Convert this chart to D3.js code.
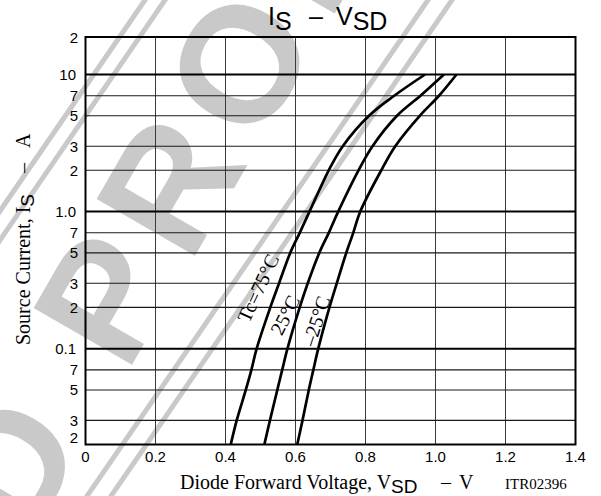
<!DOCTYPE html>
<html><head><meta charset="utf-8">
<script src="https://cdn.jsdelivr.net/npm/d3@7"></script>
<style>body{margin:0;background:#fff}svg{display:block}</style>
</head><body>
<svg id="c" width="601" height="496"></svg>
<script>
// ---- data ----
const xTicks = [0, 0.2, 0.4, 0.6, 0.8, 1.0, 1.2, 1.4];
const xTickLabels = ["0", "0.2", "0.4", "0.6", "0.8", "1.0", "1.2", "1.4"];
const yGrid = [10, 7, 5, 3, 2, 1, 0.7, 0.5, 0.3, 0.2, 0.1, 0.07, 0.05, 0.03];
const yDecades = [10, 1, 0.1];
const yTickValues = [10, 7, 5, 3, 2, 1, 0.7, 0.5, 0.3, 0.2, 0.1, 0.07, 0.05, 0.03, 0.02];
const yTickLabels = ["10", "7", "5", "3", "2", "1.0", "7", "5", "3", "2", "0.1", "7", "5", "3", "2"];
const yTopLabel = "2";
const currentA = [0.02, 0.03, 0.05, 0.07, 0.1, 0.2, 0.3, 0.5, 0.7, 1, 2, 3, 5, 7, 10];
const vf75  = [0.415, 0.432, 0.458, 0.474, 0.489, 0.528, 0.553, 0.585, 0.612, 0.640, 0.695, 0.735, 0.810, 0.882, 0.970];
const vf25  = [0.511, 0.527, 0.548, 0.562, 0.577, 0.612, 0.635, 0.668, 0.695, 0.722, 0.780, 0.820, 0.890, 0.957, 1.024];
const vfm25 = [0.605, 0.620, 0.638, 0.651, 0.665, 0.697, 0.718, 0.745, 0.765, 0.785, 0.845, 0.885, 0.955, 1.010, 1.060];
const seriesLabels = ["Tc=75°C", "25°C", "–25°C"];
const watermarkText = "D PRODUCT";

// ---- layout ----
const svg = d3.select("#c");
const L = 85.5, R = 575.5, T = 37, B = 444.5;
const x = d3.scaleLinear().domain([0, 1.4]).range([L, R]);
const y = d3.scaleLog().domain([0.02, 10]).range([B, 74.5]);

// ---- watermark ----
const wmCol = "#c9c9c9";
const sAng = -55.5 * Math.PI / 180;
const sdir = [Math.cos(sAng), Math.sin(sAng)];
const wm = svg.append("g");
[145, 165, 428, 452].forEach(x0 => {
  const t = 900;
  wm.append("line").attr("x1", x0 - sdir[0] * t).attr("y1", -sdir[1] * t)
    .attr("x2", x0 + sdir[0] * t).attr("y2", sdir[1] * t)
    .attr("stroke", wmCol).attr("stroke-width", 5);
});
const ang = -60, rad = ang * Math.PI / 180;
const fs = 165;
const wt = wm.append("text").text(watermarkText)
  .attr("font-family", "Liberation Sans, Arial, sans-serif").attr("font-weight", "bold")
  .attr("font-size", fs).attr("letter-spacing", 16).attr("fill", wmCol);
{
  const idx = watermarkText.indexOf("O");
  const node = wt.node();
  const sx = node.getStartPositionOfChar(idx).x;
  const mid = sx + fs * 0.778 / 2;
  const cx = 238, cy = 63;      // centre of the big "O"
  const h = fs * 0.716 / 2;
  const down = [-Math.sin(rad), Math.cos(rad)];
  const px = cx + down[0] * h, py = cy + down[1] * h;
  wt.attr("transform", `translate(${px},${py}) rotate(${ang}) translate(${-mid},0)`);
}

// ---- grid ----
const g = svg.append("g");
g.selectAll(".vg").data(xTicks.slice(1, -1)).join("line")
  .attr("x1", d => x(d)).attr("x2", d => x(d)).attr("y1", T).attr("y2", B)
  .attr("stroke", "#3a3a3a").attr("stroke-width", 1);
g.selectAll(".hg").data(yGrid).join("line")
  .attr("x1", L).attr("x2", R).attr("y1", d => y(d)).attr("y2", d => y(d))
  .attr("stroke", d => yDecades.includes(d) ? "#000" : "#1a1a1a")
  .attr("stroke-width", d => yDecades.includes(d) ? 2 : 1.1);
g.append("rect").attr("x", L).attr("y", T).attr("width", R - L).attr("height", B - T)
  .attr("fill", "none").attr("stroke", "#000").attr("stroke-width", 2);

// ---- curves ----
const line = d3.line().x(d => x(d[1])).y(d => y(d[0])).curve(d3.curveCatmullRom.alpha(0.5));
[vf75, vf25, vfm25].forEach(vs => {
  svg.append("path").attr("d", line(currentA.map((a, i) => [a, vs[i]])))
    .attr("fill", "none").attr("stroke", "#000").attr("stroke-width", 2.7);
});

// curve labels
const serif = "Liberation Serif, Times New Roman, serif";
const sans = "Liberation Sans, Arial, sans-serif";
const labelPos = [[258, 288, -65], [285, 315, -63], [316, 321, -72]];
seriesLabels.forEach((t, i) => {
  const [lx, ly, a] = labelPos[i];
  svg.append("text").text(t).attr("font-family", serif).attr("font-size", 20)
    .attr("text-anchor", "middle").attr("dominant-baseline", "central")
    .attr("transform", `translate(${lx},${ly}) rotate(${a})`);
});

// ---- ticks ----
svg.selectAll(".xt").data(xTicks).join("text")
  .attr("x", d => x(d)).attr("y", 462).attr("text-anchor", "middle")
  .attr("font-family", sans).attr("font-size", 15).text((d, i) => xTickLabels[i]);
svg.selectAll(".yt").data(yTickValues).join("text")
  .attr("x", (d, i) => yTickLabels[i].length > 1 ? 76 : 78)
  .attr("y", (d, i) => i === yTickValues.length - 1 ? y(d) - 7 : y(d))
  .attr("dy", "0.36em").attr("text-anchor", "end")
  .attr("font-family", sans).attr("font-size", 15).text((d, i) => yTickLabels[i]);
svg.append("text").attr("x", 78).attr("y", T + 1).attr("dy", "0.36em").attr("text-anchor", "end")
  .attr("font-family", sans).attr("font-size", 15).text(yTopLabel);

// ---- title ----
const title = svg.append("text").attr("font-family", sans).attr("font-size", 25).attr("y", 25);
title.append("tspan").attr("x", 268).text("I");
title.append("tspan").attr("dy", 5).text("S");
title.append("tspan").attr("x", 309).attr("dy", -5).text("–");
title.append("tspan").attr("x", 336).text("V");
title.append("tspan").attr("dy", 5).text("SD");

// ---- x axis title ----
const xt = svg.append("text").attr("font-family", serif).attr("font-size", 20).attr("y", 489);
xt.append("tspan").attr("x", 180).text("Diode Forward Voltage, V");
xt.append("tspan").attr("dy", 4).attr("font-family", sans).attr("font-size", 19).text("SD");
xt.append("tspan").attr("x", 441).attr("dy", -4).text("–");
xt.append("tspan").attr("x", 459).text("V");
svg.append("text").attr("x", 505).attr("y", 489).attr("font-family", serif).attr("font-size", 15).text("ITR02396");

// ---- y axis title ----
const yt = svg.append("text").attr("font-family", serif).attr("font-size", 20)
  .attr("transform", "translate(30,345) rotate(-90)");
yt.append("tspan").attr("x", 0).text("Source Current, I");
yt.append("tspan").attr("dy", 4).attr("font-family", sans).attr("font-size", 19).text("S");
yt.append("tspan").attr("x", 172).attr("dy", -4).text("–");
yt.append("tspan").attr("x", 197).text("A");
</script>
</body></html>
